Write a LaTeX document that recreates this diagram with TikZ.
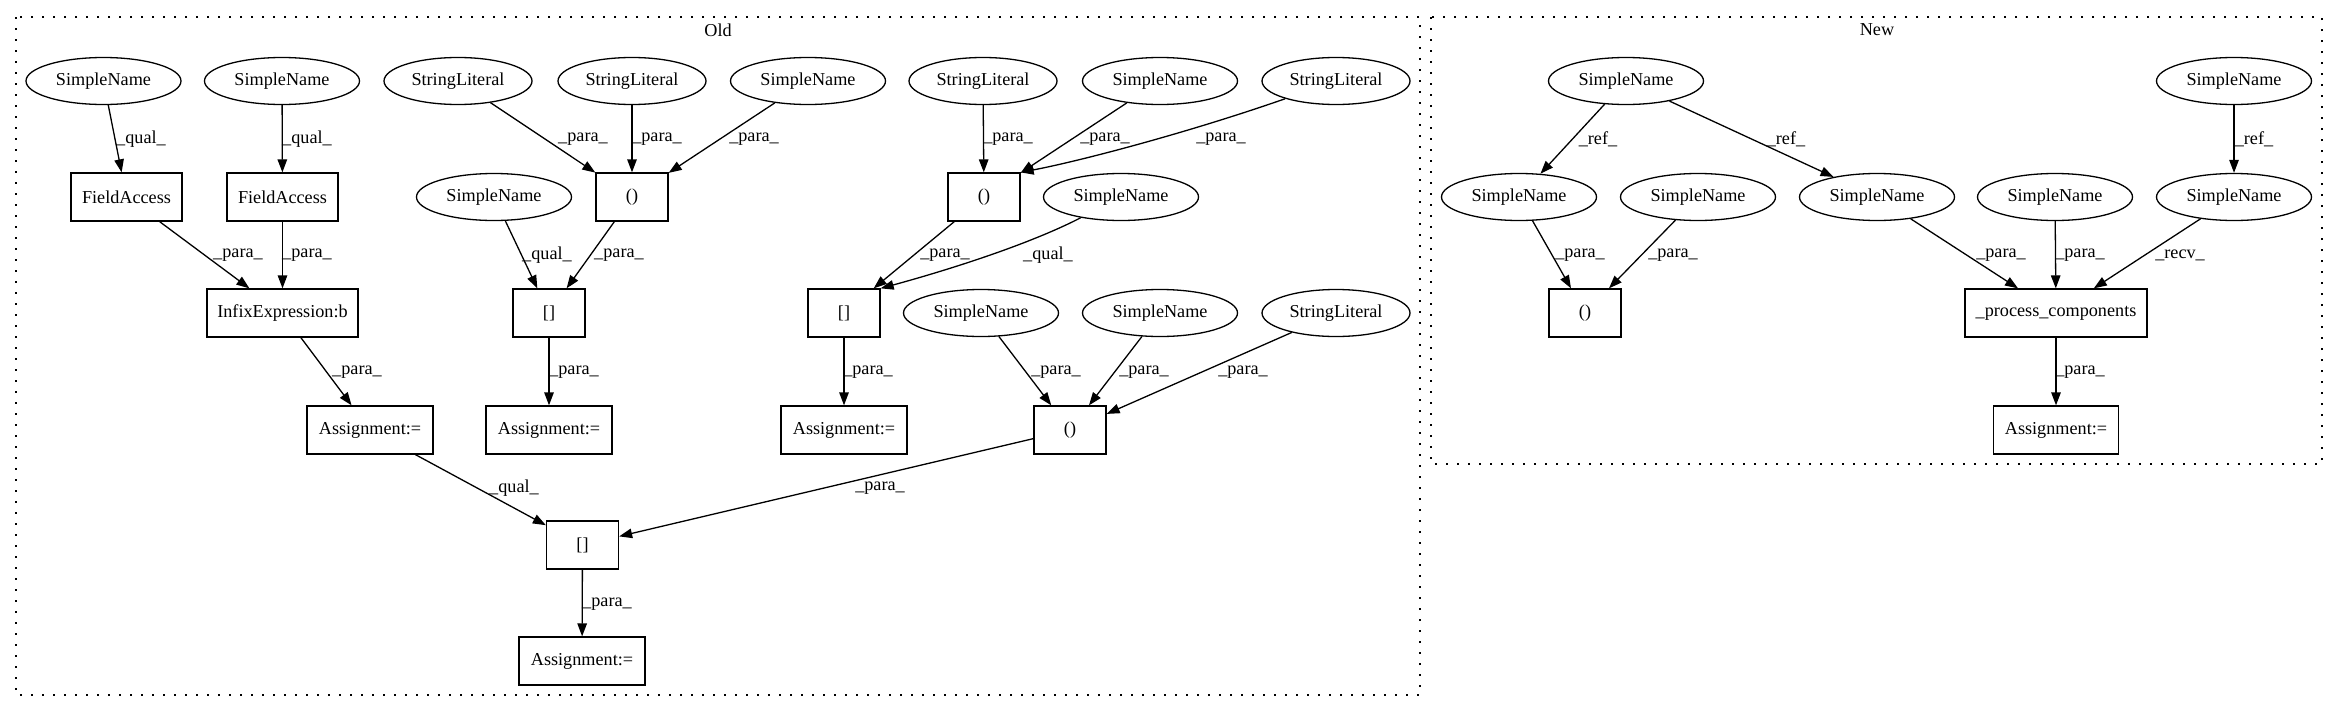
\documentclass[tikz,border=0pt]{standalone}
\usepackage{fontspec}
\setmainfont{Liberation Serif}
\usetikzlibrary{arrows.meta,shapes.geometric}
\newcommand\gvfont{\fontsize{18.2}{22}\selectfont}
\tikzset{
  el/.style={draw, ellipse, line width=1.3pt, minimum width=155pt, minimum height=47pt, inner sep=0pt, font=\gvfont},
  sl/.style={el, minimum width=148pt},
  bx/.style={draw, rectangle, line width=1.3pt, minimum height=48pt, inner sep=0pt, font=\gvfont},
  edge/.style={line width=1.3pt, -{Triangle[length=13pt,width=9.5pt]}},
  lbl/.style={font=\gvfont, inner sep=0pt},
  cluster/.style={dash pattern=on 2pt off 9pt, line width=1.5pt},
}
\begin{document}
\begin{tikzpicture}[x=1pt,y=-1pt]
\useasboundingbox (0,0) rectangle (2339,712);
% clusters
\draw[cluster] (16,17) rectangle (1420,695);
\node[lbl] (told) at (718,30) {Old};
\draw[cluster] (1431,17) rectangle (2322,464);
\node[lbl] (tnew) at (1877,30) {New};

% ---------- Old ----------
\node[el] (sn1) at (103.5,81) {SimpleName};
\node[el] (sn2) at (282,81) {SimpleName};
\node[sl] (sl1) at (458,81) {StringLiteral};
\node[sl] (sl2) at (632,81) {StringLiteral};
\node[el] (sn3) at (808,81) {SimpleName};
\node[sl] (sl3) at (983,81) {StringLiteral};
\node[el] (sn4) at (1160,81) {SimpleName};
\node[sl] (sl4) at (1336,81) {StringLiteral};

\node[bx, minimum width=111pt] (fa1) at (126.5,197) {FieldAccess};
\node[bx, minimum width=111pt] (fa2) at (282.5,197) {FieldAccess};
\node[el] (sn5) at (494,197) {SimpleName};
\node[bx, minimum width=72pt] (c1) at (632,197) {()};
\node[bx, minimum width=72pt] (c2) at (984,197) {()};
\node[el] (sn6) at (1121,197) {SimpleName};

\node[bx, minimum width=151pt] (inf) at (282.5,313) {InfixExpression:b};
\node[bx, minimum width=72pt] (a1) at (549,313) {[]};
\node[bx, minimum width=72pt] (a2) at (844,313) {[]};
\node[el] (sn7) at (981,313) {SimpleName};
\node[el] (sn8) at (1160,313) {SimpleName};
\node[sl] (sl5) at (1336,313) {StringLiteral};

\node[bx, minimum width=126pt] (as1) at (370,430) {Assignment:=};
\node[bx, minimum width=126pt] (as2) at (549,430) {Assignment:=};
\node[bx, minimum width=126pt] (as3) at (844,430) {Assignment:=};
\node[bx, minimum width=72pt] (c3) at (1070,430) {()};

\node[bx, minimum width=72pt] (a3) at (582.5,545) {[]};
\node[bx, minimum width=126pt] (as4) at (582,661) {Assignment:=};

\draw[edge] (sn1) -- (fa1) node[lbl] (l1) at (141,139) {\_qual\_};
\draw[edge] (sn2) -- (fa2) node[lbl] (l2) at (307,139) {\_qual\_};
\draw[edge] (fa1) -- (inf) node[lbl] (l3) at (238,255) {\_para\_};
\draw[edge] (fa2) -- (inf) node[lbl] (l4) at (307,255) {\_para\_};
\draw[edge] (inf) -- (as1) node[lbl] (l5) at (357,372) {\_para\_};
\draw[edge] (sl1) -- (c1) node[lbl] (l6) at (583,139) {\_para\_};
\draw[edge] (sl2) -- (c1) node[lbl] (l7) at (657,139) {\_para\_};
\draw[edge] (sn3) -- (c1) node[lbl] (l8) at (754,139) {\_para\_};
\draw[edge] (sn5) -- (a1) node[lbl] (l9) at (547,255) {\_qual\_};
\draw[edge] (c1) -- (a1) node[lbl] (l10) at (619,255) {\_para\_};
\draw[edge] (a1) -- (as2) node[lbl] (l11) at (574,372) {\_para\_};
\draw[edge] (sl3) -- (c2) node[lbl] (l12) at (1008,139) {\_para\_};
\draw[edge] (sn4) -- (c2) node[lbl] (l13) at (1105,139) {\_para\_};
\draw[edge] (sl4) .. controls (1187,133) and (1080,161) .. (c2.north east)
  node[lbl] (l14) at (1221,139) {\_para\_};
\draw[edge] (c2) -- (a2) node[lbl] (l15) at (945,255) {\_para\_};
\draw[edge] (sn6) .. controls (1022,248) and (930,275) .. (a2.north east)
  node[lbl] (l16) at (1048,255) {\_qual\_};
\draw[edge] (a2) -- (as3) node[lbl] (l17) at (868,372) {\_para\_};
\draw[edge] (sn7) -- (c3) node[lbl] (l18) at (1056,372) {\_para\_};
\draw[edge] (sn8) -- (c3) node[lbl] (l19) at (1144,372) {\_para\_};
\draw[edge] (sl5) -- (c3) node[lbl] (l20) at (1243,372) {\_para\_};
\draw[edge] (as1) -- (a3) node[lbl] (l21) at (514,488) {\_qual\_};
\draw[edge] (c3) -- (a3) node[lbl] (l22) at (880,488) {\_para\_};
\draw[edge] (a3) -- (as4) node[lbl] (l23) at (607,604) {\_para\_};

% ---------- New ----------
\node[el] (n1) at (1626,81) {SimpleName};
\node[el] (n2) at (2234,81) {SimpleName};
\node[el] (n3) at (1519,197) {SimpleName};
\node[el] (n4) at (1698,197) {SimpleName};
\node[el] (n5) at (1877,197) {SimpleName};
\node[el] (n6) at (2055,197) {SimpleName};
\node[el] (n7) at (2234,197) {SimpleName};
\node[bx, minimum width=72pt] (nc) at (1585,313) {()};
\node[bx, minimum width=182pt] (pc) at (2056,313) {\_process\_components};
\node[bx, minimum width=125pt] (na) at (2056,430) {Assignment:=};

\draw[edge] (n1) -- (n3) node[lbl] (m1) at (1598,139) {\_ref\_};
\draw[edge] (n1) -- (n5) node[lbl] (m2) at (1786,139) {\_ref\_};
\draw[edge] (n2) -- (n7) node[lbl] (m3) at (2254,139) {\_ref\_};
\draw[edge] (n3) -- (nc) node[lbl] (m4) at (1580,255) {\_para\_};
\draw[edge] (n4) -- (nc) node[lbl] (m5) at (1673,255) {\_para\_};
\draw[edge] (n5) -- (pc) node[lbl] (m6) at (2001,255) {\_para\_};
\draw[edge] (n6) -- (pc) node[lbl] (m7) at (2080,255) {\_para\_};
\draw[edge] (n7) -- (pc) node[lbl] (m8) at (2180,255) {\_recv\_};
\draw[edge] (pc) -- (na) node[lbl] (m9) at (2080,372) {\_para\_};
\end{tikzpicture}
\end{document}
